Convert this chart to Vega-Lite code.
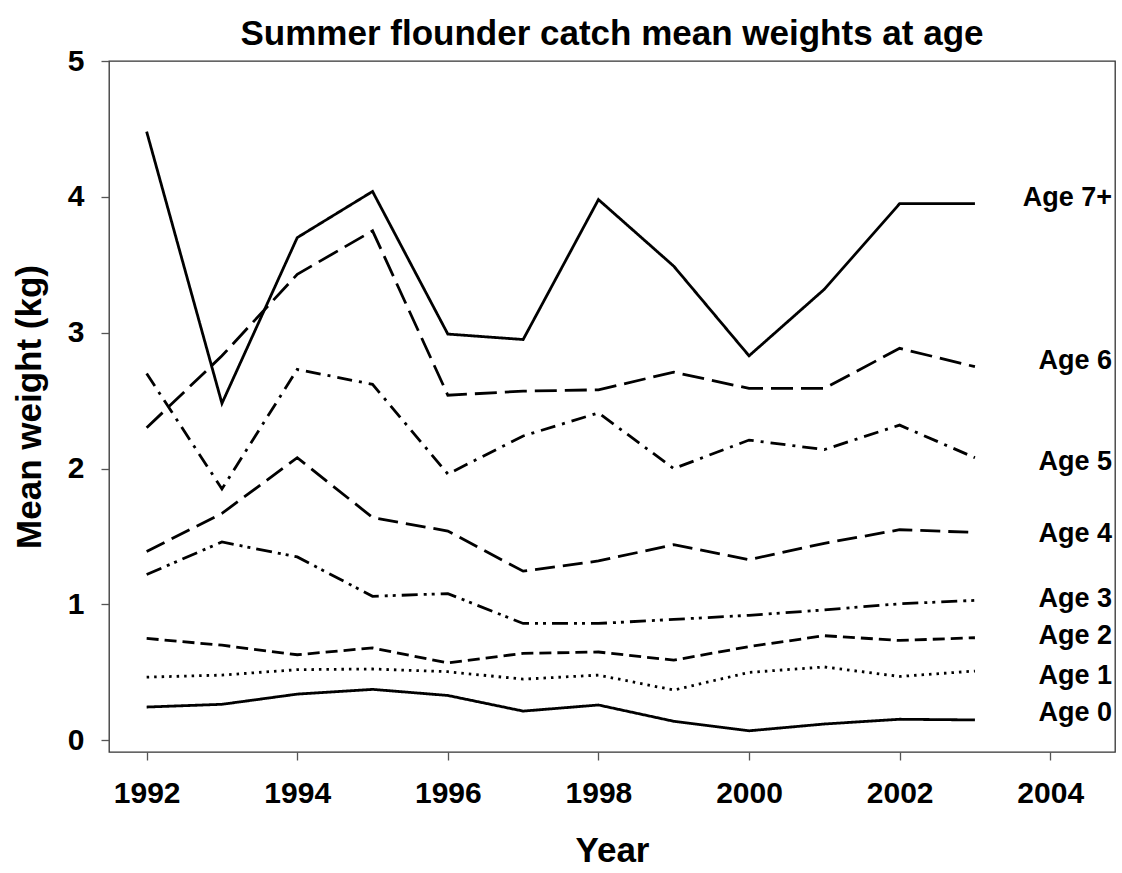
{
  "$schema": "https://vega.github.io/schema/vega-lite/v6.json",
  "width": 1006,
  "height": 691,
  "autosize": {"type": "none"},
  "padding": {"left": 109, "top": 61, "right": 7, "bottom": 121},
  "background": "white",
  "title": {
    "text": "Summer flounder catch mean weights at age",
    "frame": "group",
    "anchor": "middle",
    "baseline": "alphabetic",
    "offset": 15,
    "dy": 49,
    "font": "Liberation Sans",
    "fontSize": 35,
    "fontWeight": "bold",
    "color": "black"
  },
  "datasets": {
    "w": [
      {"year": 1992, "age": "Age 0", "w": 0.245}, {"year": 1993, "age": "Age 0", "w": 0.265}, {"year": 1994, "age": "Age 0", "w": 0.34}, {"year": 1995, "age": "Age 0", "w": 0.375}, {"year": 1996, "age": "Age 0", "w": 0.33}, {"year": 1997, "age": "Age 0", "w": 0.215}, {"year": 1998, "age": "Age 0", "w": 0.26}, {"year": 1999, "age": "Age 0", "w": 0.14}, {"year": 2000, "age": "Age 0", "w": 0.07}, {"year": 2001, "age": "Age 0", "w": 0.12}, {"year": 2002, "age": "Age 0", "w": 0.155}, {"year": 2003, "age": "Age 0", "w": 0.15},
      {"year": 1992, "age": "Age 1", "w": 0.465}, {"year": 1993, "age": "Age 1", "w": 0.48}, {"year": 1994, "age": "Age 1", "w": 0.52}, {"year": 1995, "age": "Age 1", "w": 0.525}, {"year": 1996, "age": "Age 1", "w": 0.505}, {"year": 1997, "age": "Age 1", "w": 0.45}, {"year": 1998, "age": "Age 1", "w": 0.48}, {"year": 1999, "age": "Age 1", "w": 0.37}, {"year": 2000, "age": "Age 1", "w": 0.5}, {"year": 2001, "age": "Age 1", "w": 0.54}, {"year": 2002, "age": "Age 1", "w": 0.47}, {"year": 2003, "age": "Age 1", "w": 0.51},
      {"year": 1992, "age": "Age 2", "w": 0.75}, {"year": 1993, "age": "Age 2", "w": 0.7}, {"year": 1994, "age": "Age 2", "w": 0.63}, {"year": 1995, "age": "Age 2", "w": 0.68}, {"year": 1996, "age": "Age 2", "w": 0.57}, {"year": 1997, "age": "Age 2", "w": 0.64}, {"year": 1998, "age": "Age 2", "w": 0.65}, {"year": 1999, "age": "Age 2", "w": 0.59}, {"year": 2000, "age": "Age 2", "w": 0.69}, {"year": 2001, "age": "Age 2", "w": 0.77}, {"year": 2002, "age": "Age 2", "w": 0.735}, {"year": 2003, "age": "Age 2", "w": 0.755},
      {"year": 1992, "age": "Age 3", "w": 1.22}, {"year": 1993, "age": "Age 3", "w": 1.46}, {"year": 1994, "age": "Age 3", "w": 1.35}, {"year": 1995, "age": "Age 3", "w": 1.06}, {"year": 1996, "age": "Age 3", "w": 1.08}, {"year": 1997, "age": "Age 3", "w": 0.86}, {"year": 1998, "age": "Age 3", "w": 0.86}, {"year": 1999, "age": "Age 3", "w": 0.89}, {"year": 2000, "age": "Age 3", "w": 0.92}, {"year": 2001, "age": "Age 3", "w": 0.96}, {"year": 2002, "age": "Age 3", "w": 1.005}, {"year": 2003, "age": "Age 3", "w": 1.03},
      {"year": 1992, "age": "Age 4", "w": 1.39}, {"year": 1993, "age": "Age 4", "w": 1.67}, {"year": 1994, "age": "Age 4", "w": 2.08}, {"year": 1995, "age": "Age 4", "w": 1.64}, {"year": 1996, "age": "Age 4", "w": 1.54}, {"year": 1997, "age": "Age 4", "w": 1.245}, {"year": 1998, "age": "Age 4", "w": 1.32}, {"year": 1999, "age": "Age 4", "w": 1.44}, {"year": 2000, "age": "Age 4", "w": 1.33}, {"year": 2001, "age": "Age 4", "w": 1.45}, {"year": 2002, "age": "Age 4", "w": 1.55}, {"year": 2003, "age": "Age 4", "w": 1.53},
      {"year": 1992, "age": "Age 5", "w": 2.7}, {"year": 1993, "age": "Age 5", "w": 1.85}, {"year": 1994, "age": "Age 5", "w": 2.73}, {"year": 1995, "age": "Age 5", "w": 2.62}, {"year": 1996, "age": "Age 5", "w": 1.96}, {"year": 1997, "age": "Age 5", "w": 2.24}, {"year": 1998, "age": "Age 5", "w": 2.41}, {"year": 1999, "age": "Age 5", "w": 2.0}, {"year": 2000, "age": "Age 5", "w": 2.21}, {"year": 2001, "age": "Age 5", "w": 2.14}, {"year": 2002, "age": "Age 5", "w": 2.32}, {"year": 2003, "age": "Age 5", "w": 2.08},
      {"year": 1992, "age": "Age 6", "w": 2.3}, {"year": 1993, "age": "Age 6", "w": 2.83}, {"year": 1994, "age": "Age 6", "w": 3.43}, {"year": 1995, "age": "Age 6", "w": 3.75}, {"year": 1996, "age": "Age 6", "w": 2.54}, {"year": 1997, "age": "Age 6", "w": 2.57}, {"year": 1998, "age": "Age 6", "w": 2.58}, {"year": 1999, "age": "Age 6", "w": 2.71}, {"year": 2000, "age": "Age 6", "w": 2.59}, {"year": 2001, "age": "Age 6", "w": 2.59}, {"year": 2002, "age": "Age 6", "w": 2.885}, {"year": 2003, "age": "Age 6", "w": 2.75},
      {"year": 1992, "age": "Age 7+", "w": 4.48}, {"year": 1993, "age": "Age 7+", "w": 2.48}, {"year": 1994, "age": "Age 7+", "w": 3.7}, {"year": 1995, "age": "Age 7+", "w": 4.04}, {"year": 1996, "age": "Age 7+", "w": 2.99}, {"year": 1997, "age": "Age 7+", "w": 2.95}, {"year": 1998, "age": "Age 7+", "w": 3.98}, {"year": 1999, "age": "Age 7+", "w": 3.49}, {"year": 2000, "age": "Age 7+", "w": 2.83}, {"year": 2001, "age": "Age 7+", "w": 3.32}, {"year": 2002, "age": "Age 7+", "w": 3.95}, {"year": 2003, "age": "Age 7+", "w": 3.95}
    ],
    "labels": [
      {"age": "Age 7+", "w": 3.99},
      {"age": "Age 6", "w": 2.79},
      {"age": "Age 5", "w": 2.05},
      {"age": "Age 4", "w": 1.515},
      {"age": "Age 3", "w": 1.04},
      {"age": "Age 2", "w": 0.77},
      {"age": "Age 1", "w": 0.47},
      {"age": "Age 0", "w": 0.2}
    ]
  },
  "layer": [
    {
      "data": {"name": "w"},
      "mark": {"type": "line", "color": "black", "strokeWidth": 2.8, "strokeCap": "butt", "strokeJoin": "miter"},
      "encoding": {
        "x": {
          "field": "year", "type": "quantitative",
          "scale": {"domain": [1991.5, 2004.86], "nice": false, "zero": false},
          "axis": {
            "values": [1992, 1994, 1996, 1998, 2000, 2002, 2004],
            "format": "d",
            "title": "Year",
            "titlePadding": 25,
            "titleFontSize": 35,
            "labelPadding": 18
          }
        },
        "y": {
          "field": "w", "type": "quantitative",
          "scale": {"domain": [-0.086, 5], "nice": false, "zero": false},
          "axis": {
            "values": [0, 1, 2, 3, 4, 5],
            "format": "d",
            "title": "Mean weight (kg)",
            "titlePadding": 20,
            "titleFontSize": 35,
            "labelPadding": 17
          }
        },
        "strokeDash": {
          "field": "age", "type": "nominal",
          "scale": {
            "domain": ["Age 0", "Age 1", "Age 2", "Age 3", "Age 4", "Age 5", "Age 6", "Age 7+"],
            "range": [[1, 0], [2.5, 5], [12, 6], [16, 6, 3, 5, 3, 6], [20, 8], [15, 7, 3, 7], [22, 8], [1, 0]]
          },
          "legend": null
        }
      }
    },
    {
      "data": {"name": "labels"},
      "mark": {"type": "text", "align": "right", "baseline": "middle", "dx": 137, "font": "Liberation Sans", "fontWeight": "bold", "fontSize": 27, "color": "black"},
      "encoding": {
        "x": {"datum": 2003, "type": "quantitative"},
        "y": {"field": "w", "type": "quantitative"},
        "text": {"field": "age"}
      }
    }
  ],
  "config": {
    "view": {"stroke": "#333", "strokeWidth": 1.3},
    "axis": {
      "domain": false,
      "grid": false,
      "ticks": true,
      "tickSize": 8,
      "tickColor": "#555",
      "tickWidth": 1.3,
      "labelFont": "Liberation Sans",
      "labelFontSize": 30,
      "labelFontWeight": "bold",
      "labelColor": "black",
      "titleFont": "Liberation Sans",
      "titleFontWeight": "bold",
      "titleColor": "black"
    }
  }
}
